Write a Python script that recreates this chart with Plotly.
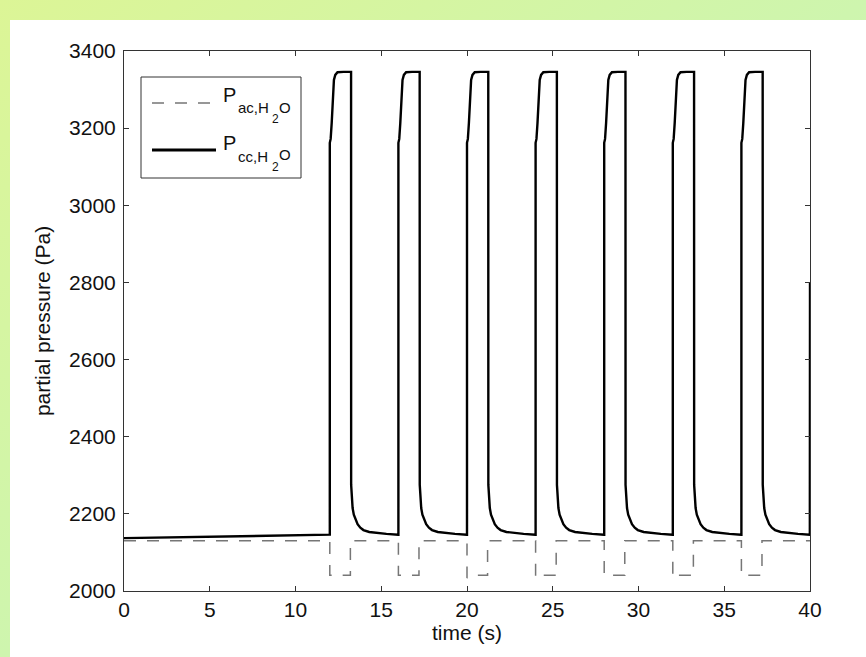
import base64
import plotly.graph_objects as go

# ---- data -------------------------------------------------------------
# humidifier switching instants (s)
cycle_starts = [12, 16, 20, 24, 28, 32, 36]

# cathode water partial pressure: slow drift before switching starts
cc_pre_t = [0, 3, 6, 9, 12]
cc_pre_p = [2137, 2139, 2141, 2143, 2145]
# one switching period of the cathode trace (offset from the cycle start, Pa)
cc_dt = [0.0, 0.0, 0.05, 0.11, 0.17, 0.24, 0.32, 0.45, 0.8, 1.24, 1.245,
         1.28, 1.33, 1.40, 1.50, 1.62, 1.78, 1.96, 2.3, 2.73, 3.3, 3.99]
cc_val = [2146, 3162, 3172, 3213, 3282, 3325, 3338, 3345, 3346, 3346, 2275,
          2238, 2215, 2198, 2184, 2173, 2164, 2158, 2153, 2150, 2148, 2146]
# value reached at the very last sample
cc_end_t = [40]
cc_end_p = [2800]

# anode water partial pressure
ac_base = 2130
ac_low = 2041
ac_dip = [2041, 2041, 2034, 2034, 2041, 2034, 2041]   # first value after each drop
ac_settle = 0.25                                        # time to reach ac_low (s)
ac_low_len = 1.2                                        # duration of the low phase (s)

x_ticks = [0, 5, 10, 15, 20, 25, 30, 35, 40]
y_ticks = [2000, 2200, 2400, 2600, 2800, 3000, 3200, 3400]

# ---- build traces -----------------------------------------------------
t_cc = list(cc_pre_t)
p_cc = list(cc_pre_p)
for T in cycle_starts:
    t_cc += [T + d for d in cc_dt]
    p_cc += cc_val
t_cc += cc_end_t
p_cc += cc_end_p

t_ac = [0]
p_ac = [ac_base]
for T, dip in zip(cycle_starts, ac_dip):
    t_ac += [T, T, T + ac_settle, T + ac_low_len, T + ac_low_len]
    p_ac += [ac_base, dip, ac_low, ac_low, ac_base]
t_ac += [40]
p_ac += [ac_base]

W, H = 866, 657
ML, MR, MT, MB = 124, 56, 51, 66
PW, PH = W - ML - MR, H - MT - MB

def px(x):
    return (x - ML) / PW

def py(y):
    return (H - MB - y) / PH

DASH_COLOR = "#767676"

fig = go.Figure()
fig.add_trace(go.Scatter(x=t_ac, y=p_ac, mode="lines", showlegend=False,
                         line=dict(color=DASH_COLOR, width=1.5, dash="12px,11px")))
fig.add_trace(go.Scatter(x=t_cc, y=p_cc, mode="lines", showlegend=False,
                         line=dict(color="black", width=2.4)))

# page background: soft green gradient frame around a white sheet
svg = (
    f'<svg xmlns="http://www.w3.org/2000/svg" width="{W}" height="{H}">'
    '<defs><linearGradient id="g" x1="0" y1="0" x2="1" y2="1">'
    '<stop offset="0" stop-color="#dcf596"/><stop offset="1" stop-color="#c0f5c6"/>'
    '</linearGradient></defs>'
    f'<rect width="{W}" height="{H}" fill="url(#g)"/>'
    f'<rect x="10" y="20" width="{W-10}" height="{H-20}" fill="#ffffff"/>'
    '</svg>'
)
src = "data:image/svg+xml;base64," + base64.b64encode(svg.encode()).decode()
fig.add_layout_image(dict(source=src, xref="paper", yref="paper",
                          x=px(0), y=py(0), sizex=W / PW, sizey=H / PH,
                          xanchor="left", yanchor="top", sizing="stretch",
                          layer="below"))

# legend box and samples
shapes = [
    dict(type="rect", xref="paper", yref="paper", x0=px(141), x1=px(301),
         y0=py(178), y1=py(77), line=dict(color="#333333", width=1),
         fillcolor="white", layer="above"),
    dict(type="line", xref="paper", yref="paper", x0=px(152), x1=px(216),
         y0=py(103), y1=py(103), line=dict(color=DASH_COLOR, width=1.5, dash="12px,11px")),
    dict(type="line", xref="paper", yref="paper", x0=px(152), x1=px(216),
         y0=py(150), y1=py(150), line=dict(color="black", width=3)),
]
for s in shapes:
    fig.add_shape(**s)

font_name = "Liberation Sans, Arial, sans-serif"

def label(x, y, text, size):
    fig.add_annotation(xref="paper", yref="paper", x=px(x), y=py(y), text=text,
                       showarrow=False, xanchor="left", yanchor="middle",
                       font=dict(family=font_name, size=size, color="#111111"))

for yoff, sub in ((0, "ac,H"), (48, "cc,H")):
    label(221, 95 + yoff, "P", 20)
    label(236, 108 + yoff, sub, 15)
    label(270, 119 + yoff, "2", 12)
    label(277, 107 + yoff, "O", 15)

axis_common = dict(showline=True, linecolor="#333333", linewidth=1, mirror="ticks",
                   ticks="inside", ticklen=5, tickcolor="#333333", showgrid=False,
                   zeroline=False, tickfont=dict(family=font_name, size=21, color="#111111"))

fig.update_layout(
    width=W, height=H,
    margin=dict(l=ML, r=MR, t=MT, b=MB),
    paper_bgcolor="white", plot_bgcolor="rgba(0,0,0,0)",
    xaxis=dict(range=[0, 40], tickvals=x_ticks, ticktext=[str(v) for v in x_ticks],
               title=dict(text="time (s)", font=dict(family=font_name, size=21, color="#111111"),
                          standoff=3), **axis_common),
    yaxis=dict(range=[2000, 3400], tickvals=y_ticks, ticktext=[str(v) for v in y_ticks],
               ticklabelstandoff=3,
               title=dict(text="partial pressure (Pa)",
                          font=dict(family=font_name, size=21, color="#111111"),
                          standoff=12), **axis_common),
)

fig.write_html("out.html")
